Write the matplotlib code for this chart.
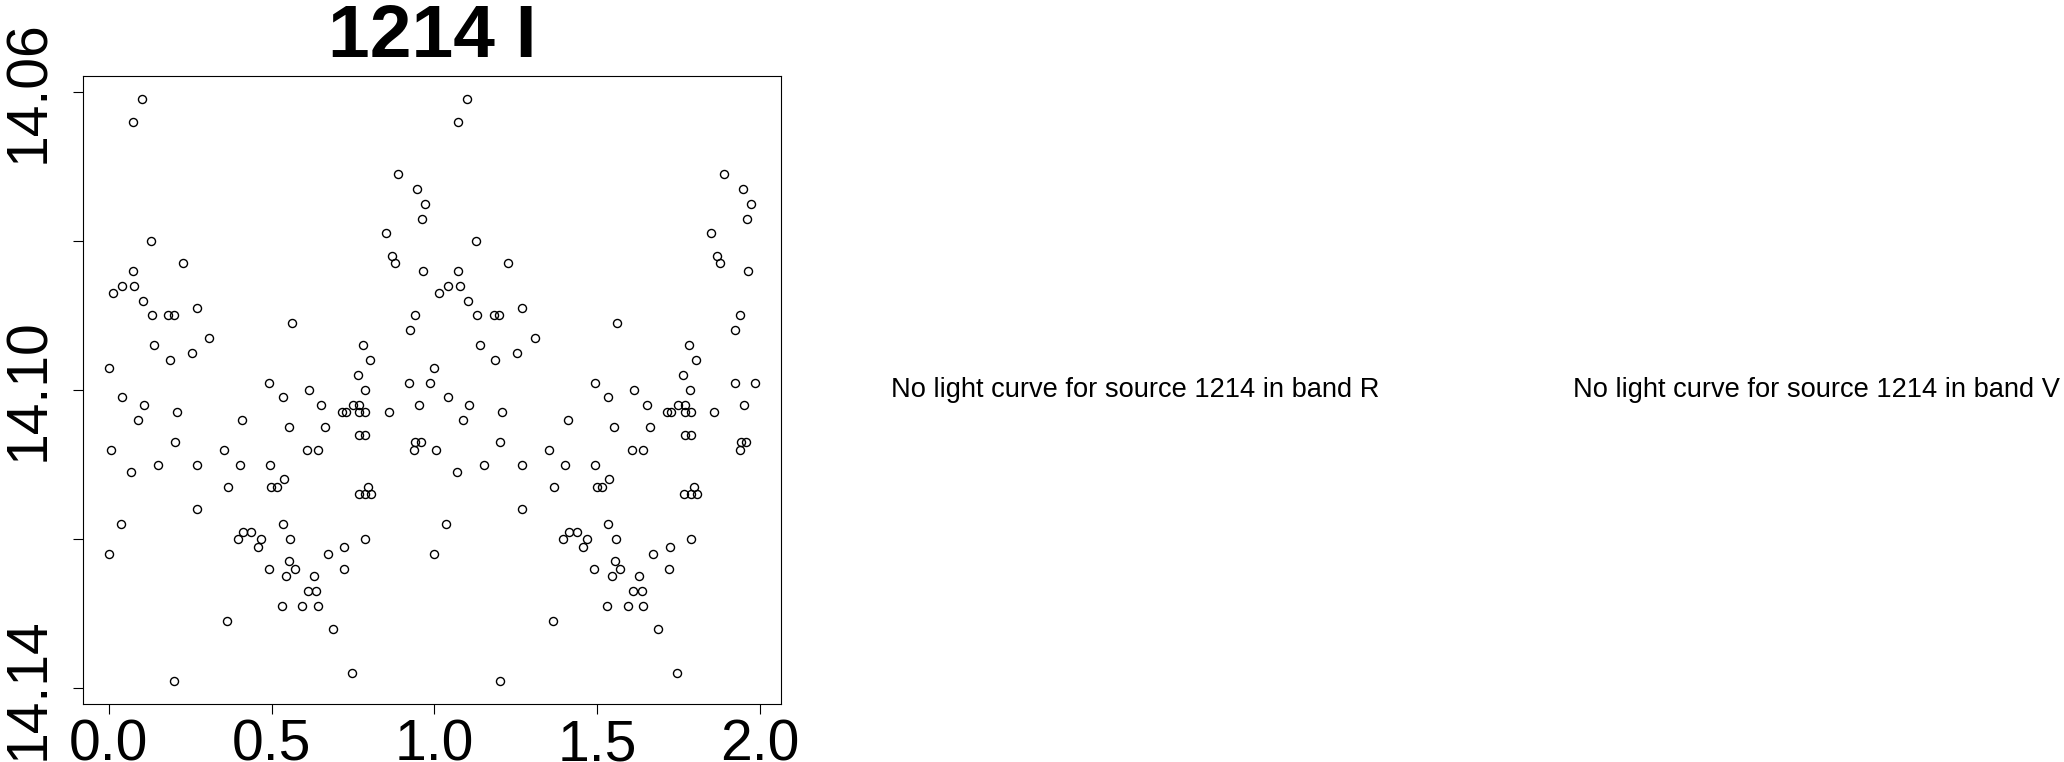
import matplotlib
matplotlib.use("Agg")
import matplotlib.pyplot as plt
import numpy as np

plt.rcParams["font.family"] = ["Liberation Sans", "DejaVu Sans"]

source = "1214"
band = "I"
missing_bands = ["R", "V"]

# phase-folded I-band light curve (phase in [0, 1), shown twice)
phase = [0.000, 0.000, 0.006, 0.014, 0.041, 0.041, 0.036, 0.069, 0.074, 0.074,
         0.078, 0.089, 0.102, 0.105, 0.108, 0.129, 0.132, 0.140, 0.152, 0.182,
         0.199, 0.188, 0.203, 0.209, 0.201, 0.228, 0.254, 0.270, 0.270, 0.270,
         0.309, 0.353, 0.367, 0.364, 0.396, 0.410, 0.413, 0.403, 0.438, 0.457,
         0.469, 0.491, 0.493, 0.495, 0.499, 0.516, 0.532, 0.535, 0.537, 0.534,
         0.545, 0.553, 0.554, 0.557, 0.562, 0.571, 0.595, 0.611, 0.615, 0.608,
         0.630, 0.637, 0.642, 0.642, 0.653, 0.664, 0.673, 0.688, 0.722, 0.724,
         0.716, 0.728, 0.749, 0.747, 0.765, 0.769, 0.769, 0.769, 0.782, 0.768,
         0.787, 0.788, 0.788, 0.788, 0.797, 0.788, 0.804, 0.807, 0.851, 0.860,
         0.870, 0.879, 0.889, 0.923, 0.925, 0.940, 0.948, 0.939, 0.942, 0.959,
         0.953, 0.962, 0.965, 0.973, 0.986]
mag = [14.097, 14.122, 14.108, 14.087, 14.086, 14.101, 14.118, 14.111, 14.064, 14.084,
       14.086, 14.104, 14.061, 14.088, 14.102, 14.080, 14.090, 14.094, 14.110, 14.090,
       14.090, 14.096, 14.107, 14.103, 14.139, 14.083, 14.095, 14.089, 14.110, 14.116,
       14.093, 14.108, 14.113, 14.131, 14.120, 14.104, 14.119, 14.110, 14.119, 14.121,
       14.120, 14.124, 14.099, 14.110, 14.113, 14.113, 14.129, 14.101, 14.112, 14.118,
       14.125, 14.105, 14.123, 14.120, 14.091, 14.124, 14.129, 14.127, 14.100, 14.108,
       14.125, 14.127, 14.108, 14.129, 14.102, 14.105, 14.122, 14.132, 14.124, 14.121,
       14.103, 14.103, 14.102, 14.138, 14.098, 14.102, 14.106, 14.103, 14.094, 14.114,
       14.100, 14.120, 14.106, 14.103, 14.113, 14.114, 14.096, 14.114, 14.079, 14.103,
       14.082, 14.083, 14.071, 14.099, 14.092, 14.090, 14.073, 14.108, 14.107, 14.107,
       14.102, 14.077, 14.084, 14.075, 14.099]

y_ticks = [14.06, 14.08, 14.10, 14.12, 14.14]
y_tick_labels = ["14.06", "", "14.10", "", "14.14"]
x_ticks = [0.0, 0.5, 1.0, 1.5, 2.0]
x_tick_labels = ["0.0", "0.5", "1.0", "1.5", "2.0"]


def r_range(v):
    # R-style 4% padding around data range
    lo, hi = min(v), max(v)
    d = (hi - lo) * 0.04
    return lo - d, hi + d


x = np.concatenate([phase, np.array(phase) + 1.0])
y = np.concatenate([mag, mag])

fig = plt.figure(figsize=(20.64, 7.62), dpi=100)
ax = fig.add_axes([83 / 2064, 1 - 704 / 762, (781 - 83) / 2064, (704 - 76) / 762])

ax.plot(x, y, linestyle="none", marker="o", markersize=5.8,
        markerfacecolor="none", markeredgecolor="black", markeredgewidth=1.0)

ax.set_xlim(*r_range(x))
lo, hi = r_range(y)
ax.set_ylim(hi, lo)

ax.set_xticks(x_ticks)
ax.set_xticklabels(x_tick_labels)
ax.set_yticks(y_ticks)
ax.set_yticklabels(y_tick_labels, rotation=90, va="center")

ax.tick_params(axis="both", direction="out", length=7.5, width=0.8,
               labelsize=41, color="black")
ax.tick_params(axis="x", pad=3)
ax.tick_params(axis="y", pad=12)
for s in ax.spines.values():
    s.set_linewidth(0.8)

ax.set_title(f"{source} {band}", fontsize=54, fontweight="bold", pad=13.5)

for b, cx in zip(missing_bands, [1135, 1816.5]):
    fig.text(cx / 2064, 1 - 397 / 762,
             f"No light curve for source {source} in band {b}",
             ha="center", va="baseline", fontsize=19.6)

fig.savefig("out.png", dpi=100)
